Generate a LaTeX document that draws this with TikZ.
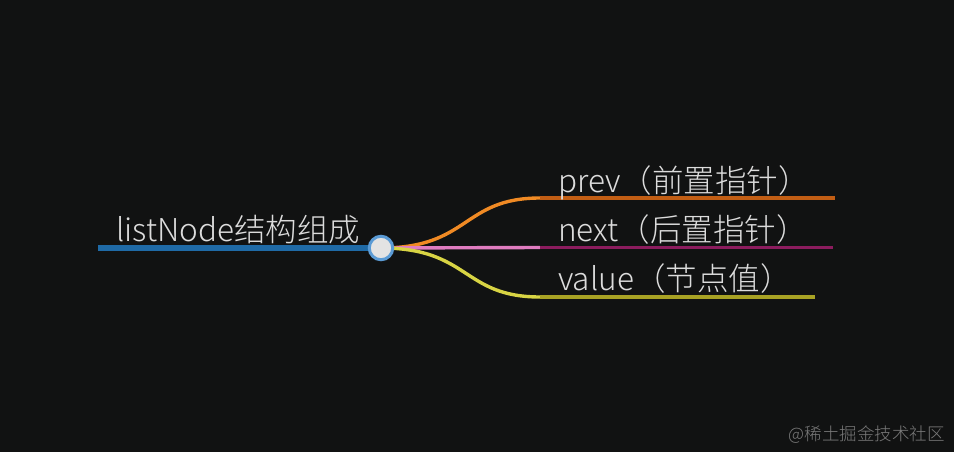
\documentclass[tikz,border=0pt]{standalone}
\usepackage{fontspec}
\newfontfamily\cjk{Noto Sans CJK SC}[UprightFont={* Light}]
\definecolor{bg}{HTML}{111212}
\definecolor{rootblue}{HTML}{1F6AA6}
\definecolor{ringblue}{HTML}{5B9BD5}
\definecolor{ringfill}{HTML}{E3E3E3}
\definecolor{orA}{HTML}{F08A24}
\definecolor{orB}{HTML}{C25E14}
\definecolor{piA}{HTML}{E07CC0}
\definecolor{piB}{HTML}{8C1C5E}
\definecolor{yeA}{HTML}{D8D444}
\definecolor{yeB}{HTML}{A8A224}
\definecolor{txt}{HTML}{DCDCDC}
\definecolor{wm}{HTML}{7A7A7A}
\begin{document}
\begin{tikzpicture}[x=1pt,y=-1pt,
  lbl/.style={anchor=base west,inner sep=0pt,text=txt,font=\cjk\fontsize{31.5}{33}\selectfont},
  branch/.style={line width=3.6pt},
  curve/.style={line width=3.4pt}]
\fill[bg] (0,0) rectangle (954,452);
\useasboundingbox (0,0) rectangle (954,452);
\coordinate (r0) at (98,248);
\coordinate (c0) at (381,248);
\coordinate (b1) at (540,198); \coordinate (e1) at (835,198);
\coordinate (b2) at (540,247.5); \coordinate (e2) at (833,247.5);
\coordinate (b3) at (540,297); \coordinate (e3) at (815,297);
\draw[rootblue,line width=6.5pt] (r0) -- (c0);
\draw[orA,curve] (c0) .. controls (470,248) and (462,198) .. (b1);
\draw[piA,curve] (c0) -- (b2);
\draw[yeA,curve] (c0) .. controls (470,248) and (462,297) .. (b3);
\draw[orB,branch] (b1) -- (e1);
\draw[piB,branch] (b2) -- (e2);
\draw[yeB,branch] (b3) -- (e3);
\node[circle,draw=ringblue,fill=ringfill,line width=3pt,minimum size=23.5pt,inner sep=0pt] (c) at (c0) {};
\node[lbl] (t0) at (116,241) {listNode结构组成};
\node[lbl] (t1) at (558,192) {prev（前置指针）};
\node[lbl] (t2) at (558,241) {next（后置指针）};
\node[lbl] (t3) at (558,290.5) {value（节点值）};
\node[anchor=base east,inner sep=0pt,text=wm,font=\cjk\fontsize{17.5}{20}\selectfont] (w) at (945,440) {@稀土掘金技术社区};
\end{tikzpicture}
\end{document}
